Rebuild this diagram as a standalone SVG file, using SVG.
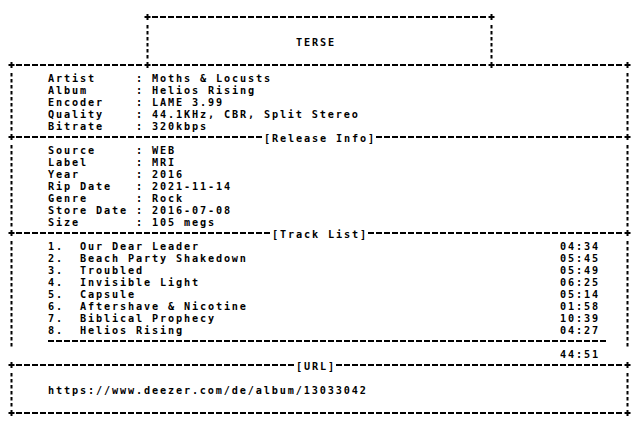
<svg xmlns="http://www.w3.org/2000/svg" width="640" height="432" viewBox="0 0 640 432">
<style>
text{font-family:"DejaVu Sans Mono","Liberation Mono",monospace;font-size:10.2px;letter-spacing:1.86px;font-weight:bold;fill:#000;white-space:pre}
.h{stroke:#000;stroke-width:2;stroke-dasharray:6 2;fill:none}
.v{stroke:#000;stroke-width:2;stroke-dasharray:3.5 2.5;fill:none}
.p{stroke:#000;stroke-width:2;fill:none}
</style>
<rect width="640" height="432" fill="#fff"/>
<g id="borders">
<line class="h" x1="152" y1="17" x2="486" y2="17"/>
<line class="h" x1="16" y1="65" x2="142" y2="65"/>
<line class="h" x1="152" y1="65" x2="486" y2="65"/>
<line class="h" x1="496" y1="65" x2="622" y2="65"/>
<line class="h" x1="16" y1="137" x2="262" y2="137"/>
<line class="h" x1="376" y1="137" x2="622" y2="137"/>
<line class="h" x1="16" y1="233" x2="270" y2="233"/>
<line class="h" x1="368" y1="233" x2="622" y2="233"/>
<line class="h" x1="48" y1="341" x2="606" y2="341"/>
<line class="h" x1="16" y1="365" x2="294" y2="365"/>
<line class="h" x1="336" y1="365" x2="622" y2="365"/>
<line class="h" x1="16" y1="413" x2="622" y2="413"/>
<line class="v" x1="147.5" y1="25" x2="147.5" y2="59"/>
<line class="v" x1="491.5" y1="25" x2="491.5" y2="59"/>
<line class="v" x1="11.5" y1="73" x2="11.5" y2="131"/>
<line class="v" x1="627.5" y1="73" x2="627.5" y2="131"/>
<line class="v" x1="11.5" y1="145" x2="11.5" y2="227"/>
<line class="v" x1="627.5" y1="145" x2="627.5" y2="227"/>
<line class="v" x1="11.5" y1="241" x2="11.5" y2="347"/>
<line class="v" x1="627.5" y1="241" x2="627.5" y2="347"/>
<line class="v" x1="11.5" y1="373" x2="11.5" y2="407"/>
<line class="v" x1="627.5" y1="373" x2="627.5" y2="407"/>
<path class="p" d="M144.5 17h6M147.5 14v6 M488.5 17h6M491.5 14v6 M8.5 65h6M11.5 62v6 M144.5 65h6M147.5 62v6 M488.5 65h6M491.5 62v6 M624.5 65h6M627.5 62v6 M8.5 137h6M11.5 134v6 M624.5 137h6M627.5 134v6 M8.5 233h6M11.5 230v6 M624.5 233h6M627.5 230v6 M8.5 365h6M11.5 362v6 M624.5 365h6M627.5 362v6 M8.5 413h6M11.5 410v6 M624.5 413h6M627.5 410v6"/>
</g>
<g id="title">
<text x="296" y="46">TERSE</text>
</g>
<g id="main-info">
<text x="48" y="82">Artist</text><text x="136" y="82">: Moths &amp; Locusts</text>
<text x="48" y="94">Album</text><text x="136" y="94">: Helios Rising</text>
<text x="48" y="106">Encoder</text><text x="136" y="106">: LAME 3.99</text>
<text x="48" y="118">Quality</text><text x="136" y="118">: 44.1KHz, CBR, Split Stereo</text>
<text x="48" y="130">Bitrate</text><text x="136" y="130">: 320kbps</text>
</g>
<g id="release-info">
<text x="264" y="142">[Release Info]</text>
<text x="48" y="154">Source</text><text x="136" y="154">: WEB</text>
<text x="48" y="166">Label</text><text x="136" y="166">: MRI</text>
<text x="48" y="178">Year</text><text x="136" y="178">: 2016</text>
<text x="48" y="190">Rip Date</text><text x="136" y="190">: 2021-11-14</text>
<text x="48" y="202">Genre</text><text x="136" y="202">: Rock</text>
<text x="48" y="214">Store Date</text><text x="136" y="214">: 2016-07-08</text>
<text x="48" y="226">Size</text><text x="136" y="226">: 105 megs</text>
</g>
<g id="track-list">
<text x="272" y="238">[Track List]</text>
<text x="48" y="250">1.</text><text x="80" y="250">Our Dear Leader</text><text x="560" y="250">04:34</text>
<text x="48" y="262">2.</text><text x="80" y="262">Beach Party Shakedown</text><text x="560" y="262">05:45</text>
<text x="48" y="274">3.</text><text x="80" y="274">Troubled</text><text x="560" y="274">05:49</text>
<text x="48" y="286">4.</text><text x="80" y="286">Invisible Light</text><text x="560" y="286">06:25</text>
<text x="48" y="298">5.</text><text x="80" y="298">Capsule</text><text x="560" y="298">05:14</text>
<text x="48" y="310">6.</text><text x="80" y="310">Aftershave &amp; Nicotine</text><text x="560" y="310">01:58</text>
<text x="48" y="322">7.</text><text x="80" y="322">Biblical Prophecy</text><text x="560" y="322">10:39</text>
<text x="48" y="334">8.</text><text x="80" y="334">Helios Rising</text><text x="560" y="334">04:27</text>
<text x="560" y="358">44:51</text>
</g>
<g id="url">
<text x="296" y="370">[URL]</text>
<text x="48" y="394">https://www.deezer.com/de/album/13033042</text>
</g>
</svg>
